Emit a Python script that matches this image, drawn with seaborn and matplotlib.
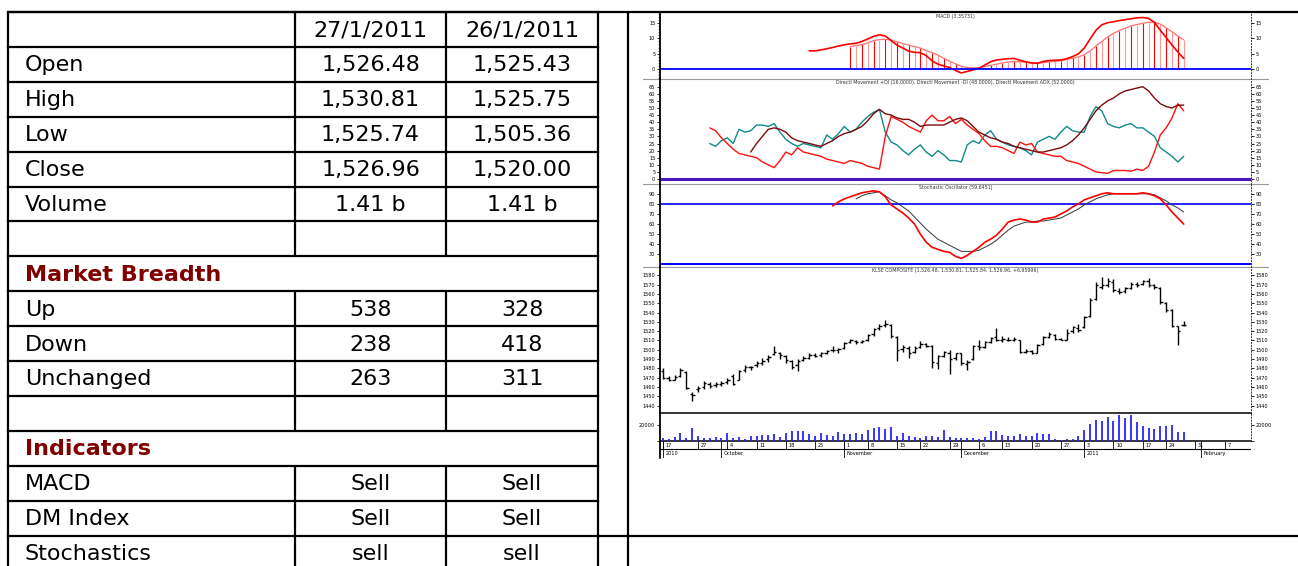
import numpy as np
import pandas as pd
import matplotlib
matplotlib.use("Agg")
import matplotlib.pyplot as plt
from matplotlib.ticker import AutoMinorLocator
import seaborn as sns

sns.set_theme(style="white")
plt.rcParams['font.family'] = ['Liberation Sans Narrow', 'DejaVu Sans']

W, H = 1298, 566

# ---------------- TABLE DATA ----------------
dates_hdr = ["27/1/2011", "26/1/2011"]
price_rows = ["Open", "High", "Low", "Close", "Volume"]
price_27 = ["1,526.48", "1,530.81", "1,525.74", "1,526.96", "1.41 b"]
price_26 = ["1,525.43", "1,525.75", "1,505.36", "1,520.00", "1.41 b"]
breadth_rows = ["Up", "Down", "Unchanged"]
breadth_27 = [538, 238, 263]
breadth_26 = [328, 418, 311]
ind_rows = ["MACD", "DM Index", "Stochastics"]
ind_27 = ["Sell", "Sell", "sell"]
ind_26 = ["Sell", "Sell", "sell"]

# ---------------- CHART DATA (KLSE composite, trading days from 17 Sep 2010) ----------------
holidays = ["2010-11-05", "2010-11-17", "2010-12-07", "2010-12-31", "2011-01-20"]
day_ticks = ["2010-09-17", "2010-09-27", "2010-10-04", "2010-10-11", "2010-10-18", "2010-10-25",
             "2010-11-01", "2010-11-08", "2010-11-15", "2010-11-22", "2010-11-29", "2010-12-06",
             "2010-12-13", "2010-12-20", "2010-12-27", "2011-01-03", "2011-01-10", "2011-01-17",
             "2011-01-24", "2011-01-31", "2011-02-07"]
month_ticks = ["2010-09-17", "2010-10-01", "2010-11-01", "2010-12-01", "2011-01-03", "2011-02-01"]
month_names = ["2010", "October", "November", "December", "2011", "February"]

opens = [1477, 1470, 1468, 1472, 1476, 1452, 1458, 1460, 1463, 1462,
         1463, 1465, 1472, 1468, 1478, 1481, 1484, 1486, 1490, 1495,
         1497, 1493, 1488, 1484, 1489, 1491, 1494, 1494, 1496, 1500,
         1500, 1502, 1508, 1509, 1508, 1510, 1517, 1523, 1527, 1527,
         1514, 1501, 1502, 1498, 1503, 1506, 1504, 1486, 1493, 1497,
         1491, 1496, 1485, 1490, 1504, 1503, 1508, 1514, 1510, 1511,
         1511, 1510, 1498, 1499, 1497, 1506, 1514, 1516, 1512, 1511,
         1520, 1523, 1524, 1536, 1555, 1568, 1570, 1573, 1563, 1563,
         1566, 1571, 1571, 1574, 1570, 1566, 1550, 1543, 1525.43, 1526.48]
highs = [1480, 1472, 1473, 1480, 1477, 1455, 1461, 1466, 1465, 1465,
         1466, 1470, 1474, 1478, 1484, 1483, 1488, 1491, 1494, 1504,
         1498, 1494, 1489, 1490, 1493, 1496, 1496, 1498, 1500, 1504,
         1502, 1508, 1512, 1511, 1511, 1517, 1523, 1528, 1532, 1528,
         1515, 1505, 1504, 1504, 1509, 1507, 1505, 1494, 1499, 1500,
         1497, 1497, 1489, 1505, 1510, 1509, 1514, 1523, 1515, 1514,
         1514, 1511, 1501, 1500, 1506, 1515, 1519, 1517, 1513, 1522,
         1526, 1528, 1536, 1556, 1573, 1578, 1577, 1576, 1566, 1567,
         1573, 1573, 1575, 1577, 1571, 1567, 1551, 1544, 1525.75, 1530.81]
lows = [1469, 1466, 1467, 1471, 1458, 1445, 1455, 1458, 1459, 1460,
        1461, 1463, 1462, 1467, 1476, 1478, 1482, 1484, 1487, 1494,
        1490, 1486, 1479, 1477, 1488, 1490, 1492, 1492, 1495, 1498,
        1497, 1501, 1507, 1506, 1507, 1509, 1515, 1521, 1525, 1513,
        1488, 1498, 1491, 1496, 1502, 1503, 1480, 1479, 1492, 1474,
        1489, 1484, 1478, 1489, 1500, 1502, 1507, 1509, 1508, 1509,
        1509, 1497, 1496, 1495, 1496, 1505, 1513, 1511, 1510, 1510,
        1518, 1519, 1523, 1535, 1554, 1565, 1568, 1562, 1560, 1561,
        1565, 1568, 1570, 1568, 1565, 1549, 1541, 1525, 1505.36, 1525.74]
closes = [1470, 1468, 1471, 1478, 1459, 1451, 1459, 1464, 1461, 1463,
          1464, 1468, 1463, 1477, 1481, 1482, 1486, 1488, 1492, 1498,
          1494, 1489, 1481, 1488, 1491, 1494, 1493, 1496, 1499, 1500,
          1501, 1507, 1510, 1508, 1509, 1516, 1522, 1526, 1528, 1515,
          1500, 1503, 1497, 1502, 1506, 1504, 1487, 1493, 1498, 1490,
          1496, 1486, 1487, 1504, 1503, 1508, 1513, 1510, 1512, 1511,
          1512, 1498, 1499, 1497, 1505, 1514, 1517, 1512, 1511, 1518,
          1524, 1521, 1535, 1553, 1570, 1570, 1574, 1564, 1562, 1566,
          1571, 1570, 1574, 1570, 1567, 1551, 1543, 1526, 1520.00, 1526.96]
volumes = [3000, 1700, 5100, 9400, 3800, 16600, 6400, 3800, 3000, 4700,
           3800, 10200, 3800, 4300, 2100, 6000, 6400, 7200, 7200, 8900,
           4700, 10200, 12300, 12300, 12300, 8100, 6400, 10200, 7200, 6400,
           11500, 8500, 8100, 9400, 8500, 13600, 15700, 17000, 14500, 17000,
           6000, 9400, 6000, 4300, 3800, 6400, 6000, 4300, 14000, 4700,
           3800, 3000, 3800, 3000, 1700, 5100, 12800, 12800, 6800, 6400,
           6000, 8500, 6000, 5500, 9800, 8100, 8100, 1700, 900, 1700,
           2600, 6000, 14000, 20900, 26400, 25100, 30200, 25100, 32800, 28500,
           32800, 23000, 18700, 15700, 14900, 18300, 18300, 20000, 10600, 10600]

macd_start = 25
macd = [5.9, 5.9, 6.2, 6.6, 7.0, 7.5, 7.9, 8.2, 8.4, 9.0,
        9.8, 10.7, 11.2, 10.8, 9.3, 7.8, 6.8, 5.8, 5.4, 5.3,
        4.3, 2.6, 1.5, 0.9, 0.4, -0.6, -1.4, -0.9, -0.4, 0.1,
        1.2, 2.3, 2.9, 3.1, 3.3, 3.4, 2.8, 2.3, 1.9, 1.8,
        2.4, 2.7, 2.8, 2.9, 3.3, 4.0, 4.9, 6.8, 9.8, 12.7,
        14.5, 15.2, 15.5, 15.9, 16.2, 16.5, 16.8, 16.9, 16.6, 15.3,
        12.7, 10.3, 7.8, 5.5, 3.4]
signal_start = 32
signal = [7.3, 7.6, 8.0, 8.5, 9.3, 9.6, 9.7, 9.5, 8.9, 8.3,
          7.8, 7.3, 6.8, 6.0, 5.3, 4.5, 3.4, 2.5, 1.6, 0.8,
          0.4, 0.3, 0.4, 0.7, 1.1, 1.5, 1.9, 2.2, 2.4, 2.3,
          2.1, 1.9, 1.8, 2.0, 2.2, 2.4, 2.6, 3.0, 3.4, 3.9,
          4.6, 5.9, 7.5, 9.0, 10.5, 11.7, 12.6, 13.4, 14.1, 14.6,
          15.0, 15.3, 15.4, 14.7, 13.5, 12.2, 10.8, 9.5]

di_start = 8
plus_di = [25, 23, 27, 29, 25, 35, 33, 34, 38, 38,
           37, 39, 33, 28, 25, 23, 25, 24, 23, 22,
           31, 28, 32, 37, 33, 35, 40, 44, 47, 49,
           33, 26, 24, 20, 17, 21, 24, 19, 16, 20,
           17, 13, 13, 12, 24, 27, 25, 31, 34, 28,
           26, 24, 23, 22, 20, 17, 26, 28, 30, 28,
           33, 37, 34, 33, 33, 44, 51, 48, 39, 37,
           36, 38, 39, 36, 36, 33, 30, 22, 19, 16,
           12, 16]
minus_di = [36, 34, 29, 25, 21, 18, 17, 16, 15, 12,
            10, 8, 13, 19, 17, 22, 19, 18, 17, 16,
            14, 13, 12, 11, 13, 12, 11, 9, 8, 7,
            30, 44, 42, 40, 37, 35, 33, 41, 45, 41,
            41, 44, 39, 42, 38, 35, 32, 27, 23, 23,
            22, 20, 18, 26, 24, 25, 19, 18, 17, 16,
            16, 13, 12, 11, 9, 7, 5, 4.5, 4, 6,
            6, 6, 5.5, 7, 6, 9, 19, 31, 36, 43,
            53, 48]
adx_start = 15
adx = [19, 25, 30, 35, 36, 35, 33, 29, 27, 26,
       25, 24, 23, 25, 27, 30, 32, 33, 35, 37,
       41, 46, 49, 46, 45, 43, 42, 42, 40, 37,
       38, 38, 38, 38, 40, 42, 43, 41, 37, 33,
       31, 29, 28, 26, 25, 23, 22, 21, 20, 19,
       19, 20, 21, 22, 24, 27, 31, 36, 42, 48,
       52, 55, 57, 60, 62, 63, 64, 65, 62, 57,
       53, 51, 50, 52, 52]

stk_start = 29
stoch_k = [78, 82, 85, 87, 89, 91, 92, 93, 92, 87,
           79, 75, 71, 66, 60, 50, 42, 37, 35, 33,
           32, 28, 26, 29, 33, 37, 42, 45, 49, 55,
           62, 64, 65, 64, 62, 62, 65, 66, 67, 70,
           73, 77, 80, 84, 86, 88, 90, 91, 90, 90,
           90, 90, 90, 91, 90, 88, 85, 79, 72, 66,
           60]
std_start = 33
stoch_d = [85, 88, 90, 91, 92, 88, 84, 81, 77, 73,
           67, 61, 55, 50, 45, 42, 39, 36, 33, 33,
           33, 34, 37, 40, 44, 49, 54, 58, 60, 62,
           62, 63, 63, 64, 65, 66, 69, 72, 75, 79,
           82, 85, 87, 89, 90, 90, 90, 90, 90, 90,
           90, 89, 86, 83, 79, 76, 72]

# ---------------- helpers ----------------
cal = pd.bdate_range("2010-09-17", "2011-02-11")
cal = cal[~cal.isin(pd.to_datetime(holidays))]
pos = {d: i for i, d in enumerate(cal)}
day = np.arange(len(closes))

fig = plt.figure(figsize=(W / 100, H / 100), dpi=100)
fig.patch.set_facecolor("white")


def px_axes(x0, y0, x1, y1):
    return fig.add_axes([x0 / W, 1 - y1 / H, (x1 - x0) / W, (y1 - y0) / H])


small = dict(fontsize=3.6, color="black")
X0, X1 = 660, 1251


def style_panel(ax, ylim, ticks, labels=None, minor=None):
    ax.set_xlim(-0.5, 100.5)
    ax.set_ylim(*ylim)
    ax.set_facecolor("none")
    ax.spines["top"].set_visible(False)
    ax.spines["bottom"].set_visible(False)
    ax.spines["left"].set_color("black")
    ax.spines["left"].set_linewidth(1.3)
    ax.spines["right"].set_color("#333333")
    ax.spines["right"].set_linewidth(0.7)
    ax.spines["right"].set_linestyle((0, (1, 2)))
    ax.set_xticks([])
    ax.set_yticks(ticks)
    if labels is not None:
        ax.set_yticklabels(labels)
    if minor:
        ax.yaxis.set_minor_locator(AutoMinorLocator(minor))
    ax.tick_params(axis="y", which="major", left=True, right=True, labelleft=True,
                   labelright=True, direction="out", length=2.2, width=0.6, pad=1.2,
                   labelsize=3.6, colors="black")
    ax.tick_params(axis="y", which="minor", left=True, right=False, direction="out",
                   length=1.2, width=0.4)
    ax.grid(False)


def panel_title(ax, txt, h):
    ax.text(0.5, 1 - 3.5 / h, txt, transform=ax.transAxes, ha="center", va="center",
            fontsize=3.4, color="#333333")


# ---------------- background / table ----------------
bg = px_axes(0, 0, W, H)
bg.set_xlim(0, W)
bg.set_ylim(H, 0)
bg.axis("off")

rows = [("", dates_hdr[0], dates_hdr[1], "cell")]
rows += [(n, a, b, "cell") for n, a, b in zip(price_rows, price_27, price_26)]
rows += [("", "", "", "cell"), ("Market Breadth", "", "", "head")]
rows += [(n, str(a), str(b), "cell") for n, a, b in zip(breadth_rows, breadth_27, breadth_26)]
rows += [("", "", "", "cell"), ("Indicators", "", "", "head")]
rows += [(n, a, b, "cell") for n, a, b in zip(ind_rows, ind_27, ind_26)]

top, row_h = 12, 34.9
cols = [8, 295, 446, 598, 628]
tlw = 1.6
for i, (lab, a, b, kind) in enumerate(rows):
    y0 = top + i * row_h
    y1 = y0 + row_h
    yc = (y0 + y1) / 2 + 1
    bg.plot([cols[0], cols[3]], [y0, y0], color="black", lw=tlw, solid_capstyle="projecting")
    if kind == "cell":
        bg.plot([cols[1], cols[1]], [y0, y1], color="black", lw=tlw)
        bg.plot([cols[2], cols[2]], [y0, y1], color="black", lw=tlw)
        bg.text(25, yc, lab, ha="left", va="center", fontsize=16, family="DejaVu Sans",
                color="black")
        bg.text((cols[1] + cols[2]) / 2, yc, a, ha="center", va="center", fontsize=16,
                family="DejaVu Sans", color="black")
        bg.text((cols[2] + cols[3]) / 2, yc, b, ha="center", va="center", fontsize=16,
                family="DejaVu Sans", color="black")
    else:
        bg.text(25, yc, lab, ha="left", va="center", fontsize=16, family="DejaVu Sans",
                fontweight="bold", color="#800000")

bg.plot([cols[0], W], [top, top], color="black", lw=tlw)
bg.plot([cols[3], W], [top + 15 * row_h, top + 15 * row_h], color="black", lw=tlw)
for cx in [cols[0], cols[3], cols[4]]:
    bg.plot([cx, cx], [top, H], color="black", lw=tlw)

# chart frame helpers: separators
for sy in [79, 184, 267]:
    bg.plot([643, 1268], [sy, sy], color="#9a9a9a", lw=0.8)
for sy in [413, 441]:
    bg.plot([X0, X1], [sy, sy], color="black", lw=1.1)

# ---------------- MACD ----------------
ax_m = px_axes(X0, 13, X1, 79)
x_sig = np.arange(signal_start, signal_start + len(signal))
x_macd = np.arange(macd_start, macd_start + len(macd))
hist_cols = ["#ff0000" if i % 2 == 0 else "#ff9a9a" for i in range(len(signal))]
ax_m.vlines(x_sig, 0, signal, colors=hist_cols, lw=0.8)
sns.lineplot(x=x_sig, y=signal, ax=ax_m, color="#ff7070", linewidth=0.9,
             estimator=None, sort=False)
sns.lineplot(x=x_macd, y=macd, ax=ax_m, color="#ff0000", linewidth=1.2,
             estimator=None, sort=False)
ax_m.axhline(0, color="#0000ff", lw=1.3)
style_panel(ax_m, (-3.4, 18.4), [0, 5, 10, 15], minor=5)
panel_title(ax_m, "MACD (3.35731)", 66)

# ---------------- DMI ----------------
ax_d = px_axes(X0, 79, X1, 184)
x_di = np.arange(di_start, di_start + len(plus_di))
x_adx = np.arange(adx_start, adx_start + len(adx))
sns.lineplot(x=x_di, y=plus_di, ax=ax_d, color="#108a8a", linewidth=1.0,
             estimator=None, sort=False)
sns.lineplot(x=x_di, y=minus_di, ax=ax_d, color="#ff1010", linewidth=1.0,
             estimator=None, sort=False)
sns.lineplot(x=x_adx, y=adx, ax=ax_d, color="#7a0a0a", linewidth=1.0,
             estimator=None, sort=False)
ax_d.axhline(0, color="#4a18b8", lw=2.2)
style_panel(ax_d, (-3.5, 70.4), list(range(0, 70, 5)))
panel_title(ax_d, "Directl Movement +DI (16.0000), Directl Movement -DI (48.0000), "
            "Directl Movement ADX (52.0000)", 105)

# ---------------- Stochastic ----------------
ax_s = px_axes(X0, 184, X1, 267)
x_k = np.arange(stk_start, stk_start + len(stoch_k))
x_dd = np.arange(std_start, std_start + len(stoch_d))
ax_s.axhline(80, color="#0000ff", lw=1.2)
ax_s.axhline(20, color="#0000ff", lw=1.4)
sns.lineplot(x=x_dd, y=stoch_d, ax=ax_s, color="#333333", linewidth=0.7,
             estimator=None, sort=False)
sns.lineplot(x=x_k, y=stoch_k, ax=ax_s, color="#ff0000", linewidth=1.2,
             estimator=None, sort=False)
style_panel(ax_s, (17.5, 99.7), list(range(30, 100, 10)))
panel_title(ax_s, "Stochastic Oscillator (59.6451)", 83)

# ---------------- Price (OHLC) ----------------
ax_p = px_axes(X0, 267, X1, 413)
ax_p.vlines(day, lows, highs, colors="black", lw=1.0)
ax_p.hlines(opens, day - 0.4, day, colors="black", lw=1.0)
ax_p.hlines(closes, day, day + 0.4, colors="black", lw=1.0)
style_panel(ax_p, (1432, 1589), list(range(1440, 1590, 10)))
panel_title(ax_p, "KLSE COMPOSITE (1,526.48, 1,530.81, 1,525.84, 1,526.96, +6.95996)", 146)

# ---------------- Volume ----------------
ax_v = px_axes(X0, 413, X1, 441)
ax_v.vlines(day, 0, volumes, colors="#2424ff", lw=1.3)
style_panel(ax_v, (-400, 35000), [0, 20000], labels=["", "20000"])

# ---------------- date axis ----------------
ax_t = px_axes(X0, 441, X1, 458)
ax_t.set_xlim(-0.5, 100.5)
ax_t.set_ylim(1, 0)
ax_t.axis("off")
ax_t.plot([-0.5, -0.5], [0, 1], color="black", lw=1.3, clip_on=False)
ax_t.axhline(0.47, color="black", lw=0.8)
for d in day_ticks:
    xi = pos[pd.Timestamp(d)]
    ax_t.vlines(xi, 0, 0.47, colors="black", lw=0.6)
    ax_t.text(xi + 0.45, 0.25, str(pd.Timestamp(d).day), ha="left", va="center", **small)
for d, name in zip(month_ticks, month_names):
    xi = pos[pd.Timestamp(d)]
    ax_t.vlines(xi, 0, 1, colors="black", lw=0.6)
    ax_t.text(xi + 0.45, 0.74, name, ha="left", va="center", **small)

fig.savefig("out.png", dpi=100, facecolor="white")
